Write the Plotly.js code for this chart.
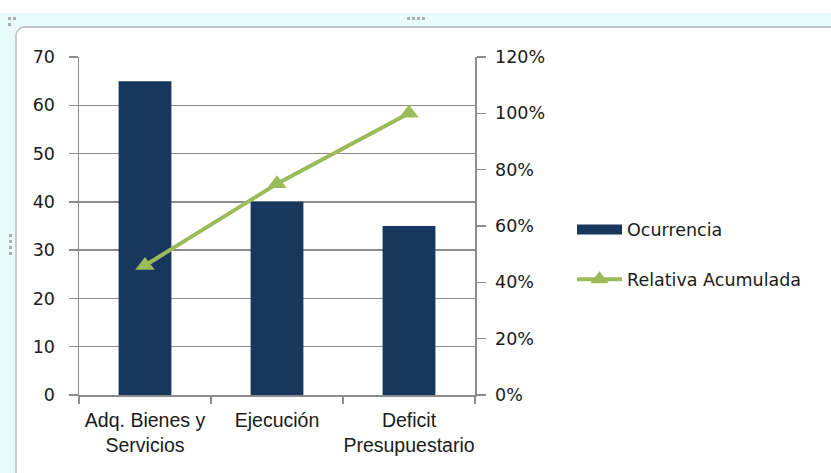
<!DOCTYPE html>
<html>
<head>
<meta charset="utf-8">
<script src="https://cdn.plot.ly/plotly-3.0.1.min.js"></script>
<style>
  html, body { margin: 0; padding: 0; background: #ffffff; width: 831px; height: 473px; overflow: hidden; }
  #frame { position: absolute; left: 0; top: 13px; width: 831px; height: 460px; background: #e9fafd; }
  #chart { position: absolute; left: 15px; top: 26px; width: 816px; height: 447px; background: #ffffff;
           border-top: 2px solid #bfc4c6; border-left: 2px solid #c6cacc; border-top-left-radius: 10px;
           box-sizing: border-box; overflow: hidden; }
  #plot { position: absolute; left: 0; top: 0; width: 814px; height: 445px; }
  .dot { position: absolute; width: 3px; height: 3px; background: #a9adb0; }
</style>
</head>
<body>
<div id="frame"></div>
<div class="dot" style="left:407px;top:17px"></div>
<div class="dot" style="left:412px;top:17px"></div>
<div class="dot" style="left:417px;top:17px"></div>
<div class="dot" style="left:422px;top:17px"></div>
<div class="dot" style="left:8px;top:17px"></div>
<div class="dot" style="left:13px;top:17px"></div>
<div class="dot" style="left:8px;top:23px"></div>
<div class="dot" style="left:9px;top:234px"></div>
<div class="dot" style="left:9px;top:240px"></div>
<div class="dot" style="left:9px;top:246px"></div>
<div class="dot" style="left:9px;top:252px"></div>
<div id="chart"><div id="plot"></div></div>
<script>
const categories = ["Adq. Bienes y<br>Servicios", "Ejecución", "Deficit<br>Presupuestario"];
const ocurrencia = [65, 40, 35];
const relativaAcumulada = [0.46, 0.75, 1.0];
const leftTicks = [0, 10, 20, 30, 40, 50, 60, 70];
const rightTicks = [0, 0.2, 0.4, 0.6, 0.8, 1.0, 1.2];

const barColor = "#17375e";
const lineColor = "#9bbb59";

const barTrace = {
  type: "bar", name: "Ocurrencia", x: categories, y: ocurrencia,
  marker: { color: barColor }, width: 0.4, showlegend: false
};
// legend-only entry giving the wide swatch of the reference legend
const barLegend = {
  type: "scatter", mode: "lines", name: "Ocurrencia", x: [null], y: [null],
  line: { color: barColor, width: 13 }, legendgroup: "a", hoverinfo: "skip"
};
const lineTrace = {
  type: "scatter", mode: "lines+markers", name: "Relativa Acumulada",
  x: categories, y: relativaAcumulada, yaxis: "y2", legendgroup: "b",
  line: { color: lineColor, width: 4 },
  marker: { symbol: "triangle-up", size: 17, color: lineColor }
};

const tickFont = { family: "DejaVu Sans", size: 17.5, color: "#1a1a1a" };
const layout = {
  width: 814, height: 445,
  margin: { l: 62, r: 356, t: 29, b: 78 },
  paper_bgcolor: "#ffffff", plot_bgcolor: "#ffffff",
  showlegend: true,
  xaxis: {
    type: "category", tickson: "boundaries", ticks: "outside", ticklen: 7,
    tickcolor: "#8c8c8c", tickwidth: 1.5, showgrid: false, tickangle: 0,
    ticklabelstandoff: 7,
    showline: true, linecolor: "#8c8c8c", linewidth: 1.5,
    tickfont: { family: "Liberation Sans", size: 19.5, color: "#1a1a1a" },
    automargin: false
  },
  yaxis: {
    range: [0, 70], tickvals: leftTicks, ticks: "outside", ticklen: 9,
    tickcolor: "#8c8c8c", tickwidth: 1.5, ticklabelstandoff: 10,
    showgrid: true, gridcolor: "#8c8c8c", gridwidth: 1.5,
    showline: true, linecolor: "#8c8c8c", linewidth: 1.5,
    zeroline: false, tickfont: tickFont, automargin: false
  },
  yaxis2: {
    overlaying: "y", side: "right", range: [0, 1.2], tickvals: rightTicks,
    tickformat: ".0%", ticks: "outside", ticklen: 9, ticklabelstandoff: 6,
    tickcolor: "#8c8c8c", tickwidth: 1.5, showgrid: false,
    showline: true, linecolor: "#8c8c8c", linewidth: 1.5,
    zeroline: false, tickfont: tickFont, automargin: false
  },
  legend: {
    x: 1.245, xanchor: "left", y: 0.415, yanchor: "middle",
    font: { family: "DejaVu Sans", size: 17.5, color: "#1a1a1a" },
    bgcolor: "rgba(0,0,0,0)", tracegroupgap: 24, itemwidth: 45
  }
};

Plotly.newPlot("plot", [barTrace, barLegend, lineTrace], layout, { displayModeBar: false, staticPlot: true });
</script>
</body>
</html>
